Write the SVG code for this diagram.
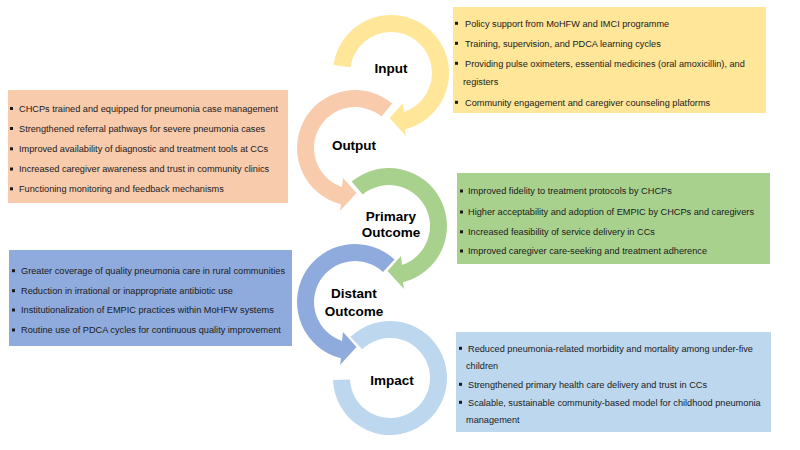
<svg xmlns="http://www.w3.org/2000/svg" width="800" height="450" viewBox="0 0 800 450">
<style>
.t{font-family:"Liberation Sans",Arial,sans-serif;font-size:9.2px;fill:#1a1a1a}
.lbl{font-family:"Liberation Sans",Arial,sans-serif;font-size:13.5px;font-weight:bold;fill:#000;text-anchor:middle}
.b{fill:#1a1a1a}
.y{fill:#FFE699}.o{fill:#F8CBAD}.g{fill:#A9D18E}.d{fill:#8FAADC}.i{fill:#BDD7EE}
</style>
<rect width="800" height="450" fill="#fff"/>
<g id="connectors">
<path class="i" d="M350.4,337 A57,57 0 1 1 333.03,379.99 L350.02,379.4 A40,40 0 1 0 362.2,349.2 Z"/>
<path class="d" d="M394.56,259.58 A58,58 0 1 0 341,358.3 L340,365 L356.5,347 L343,332 L342,340.9 A41,41 0 1 1 382.96,272.01 Z"/>
<path class="g" d="M351.72,181.57 A58,58 0 1 1 403,282.3 L404,289 L387.5,271 L401,256 L402,264.9 A41,41 0 1 0 362.65,194.59 Z"/>
<path class="o" d="M392.28,103.57 A58,58 0 1 0 341,204.3 L340,211 L356.5,193 L343,178 L342,186.9 A41,41 0 1 1 381.35,116.59 Z"/>
<path class="y" d="M333.56,64.93 A58,58 0 1 1 405,129.3 L406,136 L389.5,118 L403,103 L404,111.9 A41,41 0 1 0 350.4,67.29 Z"/>
</g>
<g id="input">
<text class="lbl" x="391" y="73">Input</text>
<rect class="y" x="453" y="7" width="313" height="106"/>
<rect class="b" x="455" y="21.8" width="3" height="3"/>
<text class="t" x="465" y="26.5">Policy support from MoHFW and IMCI programme</text>
<rect class="b" x="455" y="41.8" width="3" height="3"/>
<text class="t" x="465" y="46.5">Training, supervision, and PDCA learning cycles</text>
<rect class="b" x="455" y="61.8" width="3" height="3"/>
<text class="t" x="465" y="66.5">Providing pulse oximeters, essential medicines (oral amoxicillin), and</text>
<text class="t" x="463" y="85">registers</text>
<rect class="b" x="455" y="100.8" width="3" height="3"/>
<text class="t" x="465" y="105.5">Community engagement and caregiver counseling platforms</text>
</g>
<g id="output">
<text class="lbl" x="354" y="150">Output</text>
<rect class="o" x="8" y="90" width="280" height="113"/>
<rect class="b" x="10" y="107" width="3" height="3"/>
<text class="t" x="19" y="111.8">CHCPs trained and equipped for pneumonia case management</text>
<rect class="b" x="10" y="127" width="3" height="3"/>
<text class="t" x="19" y="131.8">Strengthened referral pathways for severe pneumonia cases</text>
<rect class="b" x="10" y="147.3" width="3" height="3"/>
<text class="t" x="19" y="152">Improved availability of diagnostic and treatment tools at CCs</text>
<rect class="b" x="10" y="167.5" width="3" height="3"/>
<text class="t" x="19" y="172.2">Increased caregiver awareness and trust in community clinics</text>
<rect class="b" x="10" y="187.3" width="3" height="3"/>
<text class="t" x="19" y="192">Functioning monitoring and feedback mechanisms</text>
</g>
<g id="primary-outcome">
<text class="lbl" x="391" y="221">Primary</text>
<text class="lbl" x="391" y="237">Outcome</text>
<rect class="g" x="457" y="173" width="313" height="91"/>
<rect class="b" x="460" y="189.5" width="3" height="3"/>
<text class="t" x="468" y="194.2">Improved fidelity to treatment protocols by CHCPs</text>
<rect class="b" x="460" y="210.5" width="3" height="3"/>
<text class="t" x="468" y="215.2">Higher acceptability and adoption of EMPIC by CHCPs and caregivers</text>
<rect class="b" x="460" y="230.3" width="3" height="3"/>
<text class="t" x="468" y="235">Increased feasibility of service delivery in CCs</text>
<rect class="b" x="460" y="249.5" width="3" height="3"/>
<text class="t" x="468" y="254.2">Improved caregiver care-seeking and treatment adherence</text>
</g>
<g id="distant-outcome">
<text class="lbl" x="354" y="298">Distant</text>
<text class="lbl" x="354" y="315.5">Outcome</text>
<rect class="d" x="9" y="250" width="283" height="96"/>
<rect class="b" x="12" y="269.2" width="3" height="3"/>
<text class="t" x="21" y="274">Greater coverage of quality pneumonia care in rural communities</text>
<rect class="b" x="12" y="289.2" width="3" height="3"/>
<text class="t" x="21" y="294">Reduction in irrational or inappropriate antibiotic use</text>
<rect class="b" x="12" y="308.5" width="3" height="3"/>
<text class="t" x="21" y="313.2">Institutionalization of EMPIC practices within MoHFW systems</text>
<rect class="b" x="12" y="328.5" width="3" height="3"/>
<text class="t" x="21" y="333.2">Routine use of PDCA cycles for continuous quality improvement</text>
</g>
<g id="impact">
<text class="lbl" x="392" y="385">Impact</text>
<rect class="i" x="456" y="332" width="315" height="100"/>
<rect class="b" x="459" y="346.8" width="3" height="3"/>
<text class="t" x="468" y="351.5">Reduced pneumonia-related morbidity and mortality among under-five</text>
<text class="t" x="466" y="369.2">children</text>
<rect class="b" x="459" y="382.8" width="3" height="3"/>
<text class="t" x="468" y="387.5">Strengthened primary health care delivery and trust in CCs</text>
<rect class="b" x="459" y="400.8" width="3" height="3"/>
<text class="t" x="468" y="405.5">Scalable, sustainable community-based model for childhood pneumonia</text>
<text class="t" x="466" y="422.5">management</text>
</g>
</svg>
